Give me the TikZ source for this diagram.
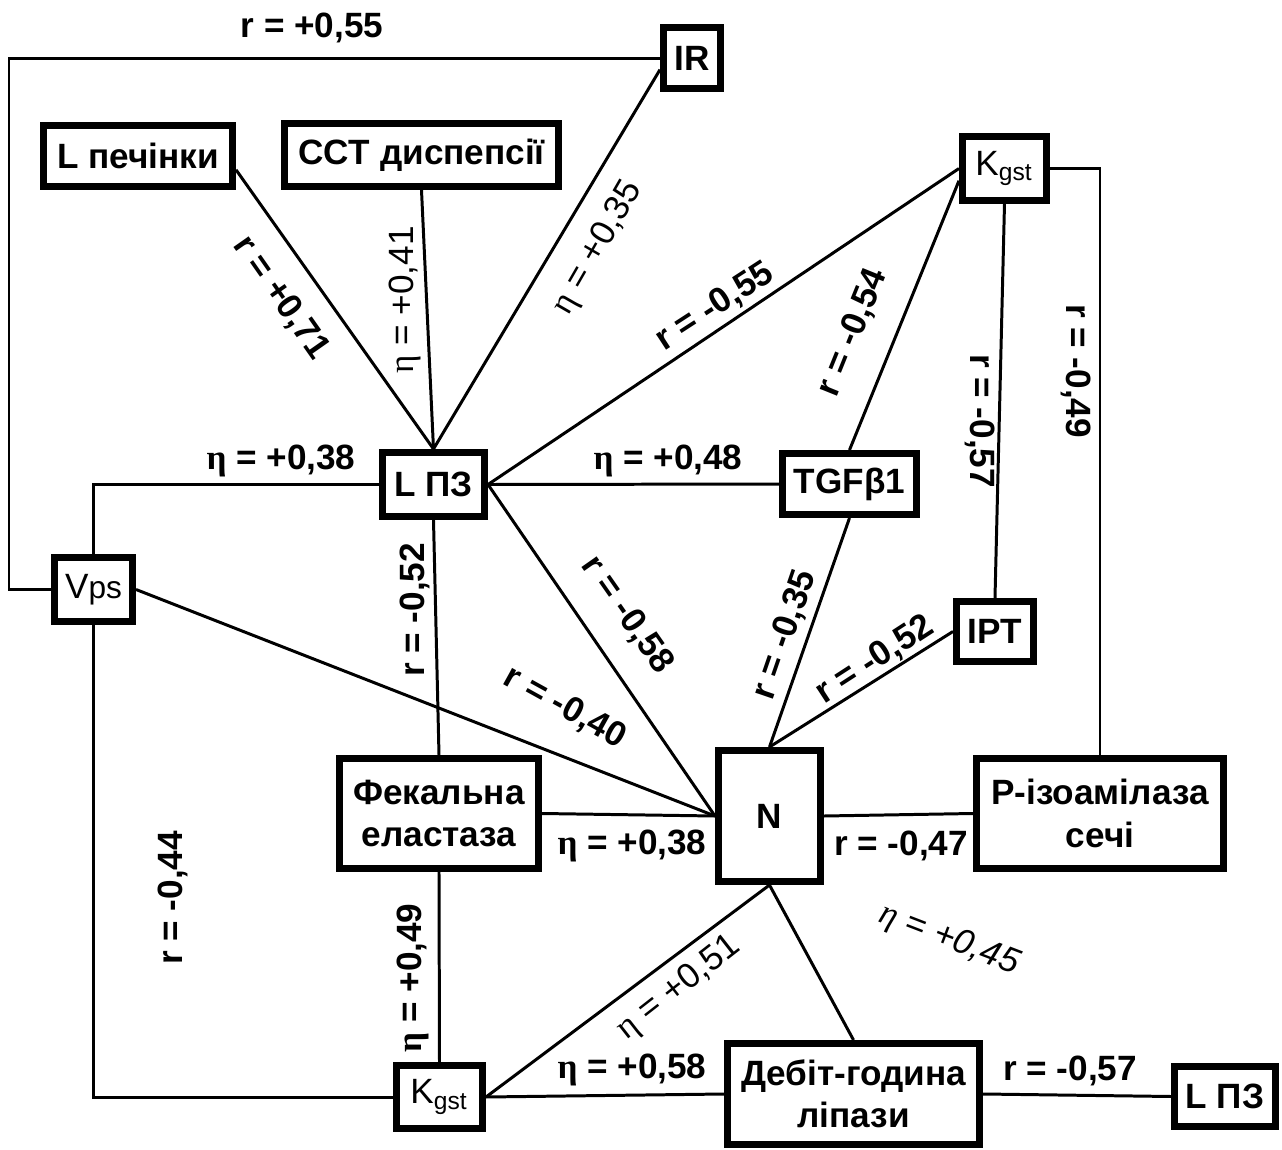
\documentclass[tikz,border=0pt]{standalone}
\usepackage{fontspec}
\setmainfont{Liberation Sans}
\newfontfamily\grkfont{Liberation Serif}
\newcommand{\eh}{{\grkfont η}}
\newcommand{\kgst}{{\mdseries K\textsubscript{gst}}}

\begin{document}
\begin{tikzpicture}[x=0.1mm, y=-0.1mm,
  box/.style={draw, line width=2pt, inner sep=0pt, font=\bfseries, align=center},
  lnk/.style={line width=0.85pt},
  lbl/.style={font=\bfseries, inner sep=0pt},
  lbt/.style={inner sep=0pt}]
\useasboundingbox (0,0) rectangle (1282,1150);

% ---------- показники (координати в пікселях оригіналу)
\node[box, minimum width=5.7mm,  minimum height=6.1mm] (IR)    at (692,58)    {IR};
\node[box, minimum width=18.9mm, minimum height=6.1mm] (Lpech) at (138,156)   {L печінки};
\node[box, minimum width=27.4mm, minimum height=6.3mm] (CCT)   at (421.5,155) {CCT диспепсії};
\node[box, minimum width=8.4mm,  minimum height=6.4mm] (KgT)   at (1004.5,168.5) {\kgst};
\node[box, minimum width=10.2mm, minimum height=6.4mm] (LPZ)   at (433.5,484.5) {L ПЗ};
\node[box, minimum width=13.4mm, minimum height=6.1mm] (TGF)   at (849.5,484) {TGFβ1};
\node[box, minimum width=7.8mm,  minimum height=6.4mm] (Vps)   at (93.5,589.5) {{\mdseries V{\small ps}}};
\node[box, minimum width=7.7mm,  minimum height=6.0mm] (IPT)   at (995,631.5) {IPT};
\node[box, minimum width=19.9mm, minimum height=11.0mm] (Fek)  at (439,813.5) {Фекальна\\еластаза};
\node[box, minimum width=10.2mm, minimum height=13.1mm] (N)    at (769.5,816) {N};
\node[box, minimum width=24.7mm, minimum height=11.0mm] (Piso) at (1100,813.5) {Р-ізоамілаза\\сечі};
\node[box, minimum width=8.6mm,  minimum height=6.3mm] (KgB)   at (439.5,1097) {\kgst};
\node[box, minimum width=25.2mm, minimum height=10.1mm] (Deb)  at (853.5,1094) {Дебіт-година\\ліпази};
\node[box, minimum width=10.1mm, minimum height=6.0mm] (LPZr)  at (1225,1096.5) {L ПЗ};
\coordinate (lft) at (9,0);

% ---------- зв'язки
\draw[lnk] (IR.west) -- (IR.west -| lft) |- (Vps.west);
\draw[lnk] (Lpech.-8) -- (LPZ.north);
\draw[lnk] (CCT.south) -- (LPZ.north);
\draw[lnk] (IR.200) -- (LPZ.north);
\draw[lnk] (KgT.west) -- (LPZ.east);
\draw[lnk] (KgT.195) -- (TGF.north);
\draw[lnk] (KgT.south) -- (IPT.north);
\draw[lnk] (KgT.east) -| (Piso.north);
\draw[lnk] (LPZ.west) -| (Vps.north);
\draw[lnk] (LPZ.east) -- (TGF.west);
\draw[lnk] (LPZ.south) -- (Fek.north);
\draw[lnk] (LPZ.east) -- (N.west);
\draw[lnk] (Vps.east) -- (N.west);
\draw[lnk] (Fek.east) -- (N.west);
\draw[lnk] (TGF.south) -- (N.north);
\draw[lnk] (IPT.west) -- (N.north);
\draw[lnk] (N.east) -- (Piso.west);
\draw[lnk] (N.south) -- (Deb.north);
\draw[lnk] (N.south) -- (KgB.east);
\draw[lnk] (KgB.east) -- (Deb.west);
\draw[lnk] (Deb.east) -- (LPZr.west);
\draw[lnk] (KgB.north) -- (Fek.south);
\draw[lnk] (KgB.west) -| (Vps.south);

% ---------- коефіцієнти
\node[lbl] (c55)  at (312,28) {r = +0,55};
\node[lbl, rotate=-55] (c71) at (281,298) {r = +0,71};
\node[lbt, rotate=90]  (c41) at (405,300) {\eh{} = +0,41};
\node[lbt, rotate=60]  (c35) at (598,248) {\eh{} = +0,35};
\node[lbl, rotate=33]  (c55k) at (715,307) {r = -0,55};
\node[lbl, rotate=68]  (c54) at (853,333) {r = -0,54};
\node[lbl, rotate=-90] (c57) at (980,421) {r = -0,57};
\node[lbl, rotate=-90] (c49) at (1076,371) {r = -0,49};
\node[lbl] (c38)  at (281,461) {\eh{} = +0,38};
\node[lbl] (c48)  at (668,461) {\eh{} = +0,48};
\node[lbl, rotate=90]  (c52)  at (415,610) {r = -0,52};
\node[lbl, rotate=-55] (c58)  at (627,615) {r = -0,58};
\node[lbl, rotate=-29] (c40)  at (565,708) {r = -0,40};
\node[lbl, rotate=71]  (c35r) at (785,635) {r = -0,35};
\node[lbl, rotate=33]  (c52i) at (875,660) {r = -0,52};
\node[lbl] (c38f) at (632,846) {\eh{} = +0,38};
\node[lbl] (c47)  at (901,846) {r = -0,47};
\node[lbl, rotate=90]  (c44)  at (173,898) {r = -0,44};
\node[lbl, rotate=90]  (c49f) at (413,978) {\eh{} = +0,49};
\node[lbt, rotate=38]  (c51)  at (679,988) {\eh{} = +0,51};
\node[lbl] (c58k) at (632,1070) {\eh{} = +0,58};
\node[lbl] (c57d) at (1070,1071) {r = -0,57};
\node[lbt, rotate=-21, font=\itshape] (c45) at (949,940) {\eh{} = +0,45};
\end{tikzpicture}
\end{document}
